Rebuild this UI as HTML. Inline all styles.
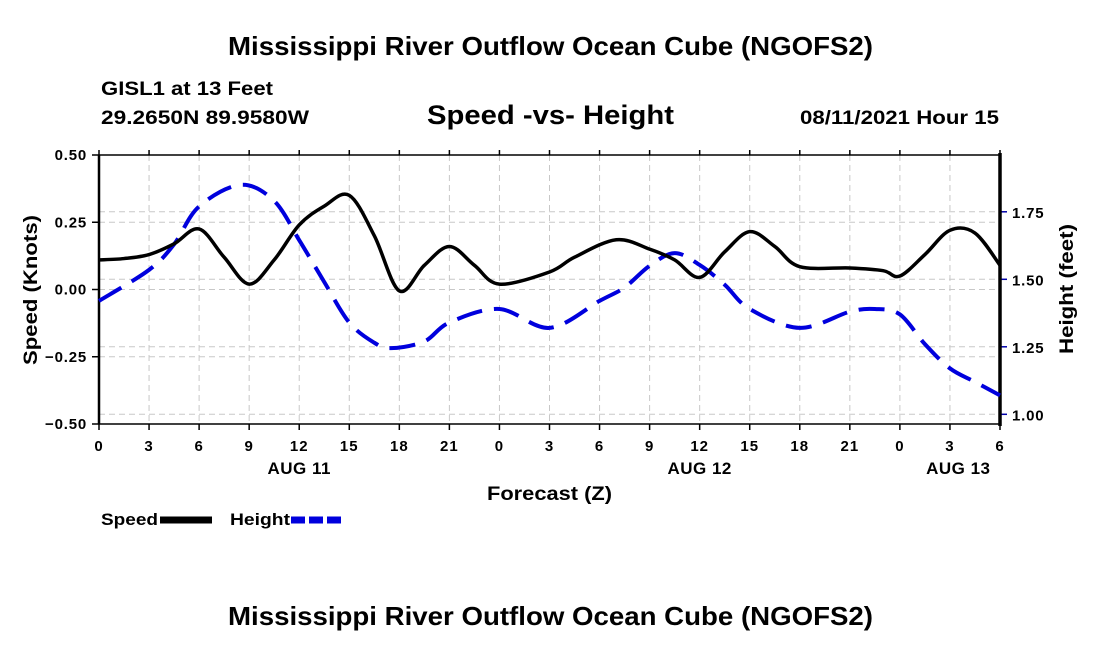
<!DOCTYPE html>
<html><head><meta charset="utf-8"><style>
html,body{margin:0;padding:0;background:#fff;}
svg{display:block;font-family:"Liberation Sans",sans-serif;font-weight:bold;}
</style></head><body>
<svg id="chart" width="1100" height="650">
<text x="228" y="55" font-size="26" textLength="645" lengthAdjust="spacingAndGlyphs">Mississippi River Outflow Ocean Cube (NGOFS2)</text>
<text x="101" y="95" font-size="19" textLength="172" lengthAdjust="spacingAndGlyphs">GISL1 at 13 Feet</text>
<text x="101" y="124" font-size="19" textLength="208" lengthAdjust="spacingAndGlyphs">29.2650N  89.9580W</text>
<text x="427" y="124" font-size="27" textLength="247" lengthAdjust="spacingAndGlyphs">Speed -vs- Height</text>
<text x="800" y="124" font-size="19" textLength="199" lengthAdjust="spacingAndGlyphs">08/11/2021 Hour 15</text>
<g id="grid"></g>
<g id="axes"></g>
<g id="series"></g>
<text x="487" y="500" font-size="19" textLength="125" lengthAdjust="spacingAndGlyphs">Forecast (Z)</text>
<text transform="translate(37,365) rotate(-90)" font-size="19" textLength="150" lengthAdjust="spacingAndGlyphs">Speed (Knots)</text>
<text transform="translate(1073,354) rotate(-90)" font-size="19" textLength="130" lengthAdjust="spacingAndGlyphs">Height (feet)</text>
<g>
<text x="101" y="525" font-size="17" textLength="57" lengthAdjust="spacingAndGlyphs">Speed</text>
<line x1="160" y1="520" x2="212" y2="520" stroke="#000" stroke-width="7"/>
<text x="230" y="525" font-size="17" textLength="60" lengthAdjust="spacingAndGlyphs">Height</text>
<line x1="291" y1="520" x2="342" y2="520" stroke="#0000dd" stroke-width="7" stroke-dasharray="14,4"/>
</g>
<text x="228" y="625" font-size="26" textLength="645" lengthAdjust="spacingAndGlyphs">Mississippi River Outflow Ocean Cube (NGOFS2)</text>
</svg>
<script>
const speedHours=[0,1.5,3,4.5,6,7.5,9,10.5,12,13.5,15,16.5,18,19.5,21,22.5,24,27,28.5,31,33,34.5,36,37.5,39,40.5,42,45,47,48,49.5,51,52.5,54];
const speedValues=[0.11,0.115,0.13,0.17,0.225,0.12,0.02,0.11,0.24,0.31,0.35,0.2,-0.005,0.09,0.16,0.09,0.02,0.065,0.12,0.185,0.15,0.11,0.045,0.14,0.215,0.16,0.085,0.08,0.07,0.05,0.13,0.22,0.21,0.09];
const heightHours=[0,3,4.5,6,8.5,10.5,12,13.5,15,16.5,17.5,19.5,21,24,27,30,31.5,33,34.5,36,37.5,39,42,45,46.5,48,49.5,51,52.5,54];
const heightValues=[1.42,1.535,1.63,1.77,1.85,1.79,1.645,1.49,1.34,1.265,1.245,1.27,1.34,1.39,1.32,1.42,1.47,1.55,1.597,1.553,1.48,1.39,1.32,1.38,1.39,1.37,1.26,1.17,1.12,1.07];
const xTickLabels=["0","3","6","9","12","15","18","21","0","3","6","9","12","15","18","21","0","3","6"];
const dayLabels=["AUG 11","AUG 12","AUG 13"];
const dayHours=[12,36,51.5];
const speedTicks=[0.5,0.25,0,-0.25,-0.5];
const heightTicks=[1.75,1.5,1.25,1.0];
const NS="http://www.w3.org/2000/svg";
const X0=99,X1=1000,Y0=155,Y1=424;
const x=h=>X0+(h/54)*(X1-X0);
const yS=v=>289.5-v*(Y1-Y0);
const yH=v=>279.3-(v-1.5)*270;
function mk(tag,attrs,parent){const e=document.createElementNS(NS,tag);for(const k in attrs)e.setAttribute(k,attrs[k]);parent.appendChild(e);return e;}
const grid=document.getElementById('grid'),axes=document.getElementById('axes'),series=document.getElementById('series');
xTickLabels.forEach((t,i)=>{const px=x(i*3);
 const g=mk('line',{x1:px,y1:Y0,x2:px,y2:Y1,stroke:'#c8c8c8','stroke-dasharray':'6,4'},grid);
 
 const tk=mk('line',{x1:px,y1:Y1,x2:px,y2:Y1+6,stroke:'#000','stroke-width':1.5},axes);
 
 const tt=mk('line',{x1:px,y1:Y0,x2:px,y2:Y0-5,stroke:'#000','stroke-width':1.5},axes);
 
 const lb=mk('text',{x:px,y:451,'text-anchor':'middle','font-size':15,'letter-spacing':1},axes);lb.textContent=t;
 
});
dayLabels.forEach((d,i)=>{const lb=mk('text',{x:x(dayHours[i]),y:474,'text-anchor':'middle','font-size':17,'letter-spacing':0.5},axes);lb.textContent=d;
 });
speedTicks.forEach(v=>{const py=yS(v);
 const g=mk('line',{x1:X0,y1:py,x2:X1,y2:py,stroke:'#c8c8c8','stroke-dasharray':'6,4'},grid);
 
 const tk=mk('line',{x1:X0-7,y1:py,x2:X0,y2:py,stroke:'#000','stroke-width':1.5},axes);
 
 const lb=mk('text',{x:X0-12,y:py+5,'text-anchor':'end','font-size':15,'letter-spacing':0.8},axes);lb.textContent=v.toFixed(2).replace('-','\u2212');
 });
heightTicks.forEach(v=>{const py=yH(v);
 const g=mk('line',{x1:X0,y1:py,x2:X1,y2:py,stroke:'#c8c8c8','stroke-dasharray':'6,4'},grid);
 
 const tk=mk('line',{x1:X1,y1:py,x2:X1+7,y2:py,stroke:'#00a','stroke-width':1.5},axes);
 
 const lb=mk('text',{x:X1+12,y:py+6,'font-size':15,'letter-spacing':0.8},axes);lb.textContent=v.toFixed(2);
 });
const fr=mk('rect',{x:X0,y:Y0,width:X1-X0,height:Y1-Y0,fill:'none',stroke:'#000','stroke-width':1.5},axes);

const la=mk('line',{x1:X0,y1:Y0,x2:X0,y2:Y1,stroke:'#000','stroke-width':2.5},axes);

const ra=mk('line',{x1:X1,y1:Y0-2,x2:X1,y2:Y1+2,stroke:'#000','stroke-width':3.5},axes);

function smooth(pts){let d=`M${pts[0][0]},${pts[0][1]}`;
 for(let i=0;i<pts.length-1;i++){const p0=pts[i-1]||pts[i],p1=pts[i],p2=pts[i+1],p3=pts[i+2]||p2;
  d+=` C${p1[0]+(p2[0]-p0[0])/6},${p1[1]+(p2[1]-p0[1])/6} ${p2[0]-(p3[0]-p1[0])/6},${p2[1]-(p3[1]-p1[1])/6} ${p2[0]},${p2[1]}`;}
 return d;}
const hp=mk('path',{d:smooth(heightHours.map((h,i)=>[x(h),yH(heightValues[i])])),fill:'none',stroke:'#0000dd','stroke-width':4,'stroke-dasharray':'26,12'},series);

const sp=mk('path',{d:smooth(speedHours.map((h,i)=>[x(h),yS(speedValues[i])])),fill:'none',stroke:'#000','stroke-width':3.5},series);

</script>
</body></html>
